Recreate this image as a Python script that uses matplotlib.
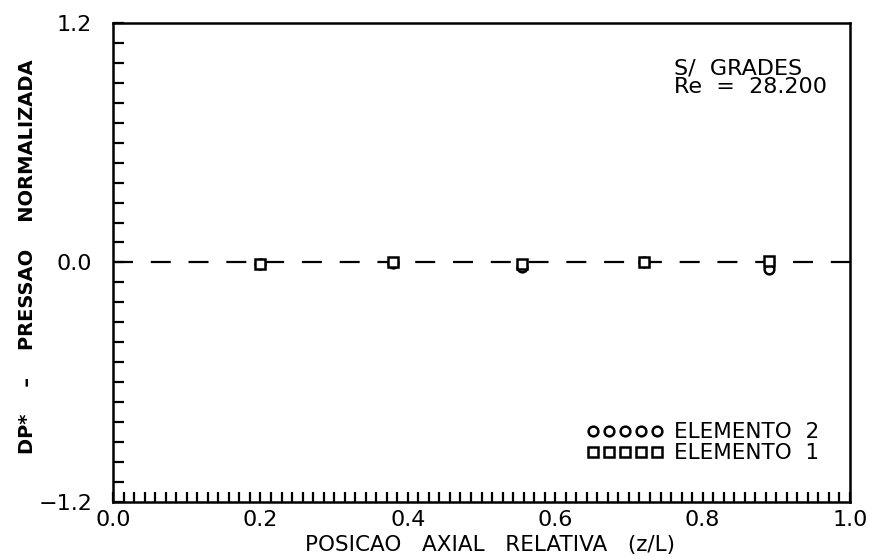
import matplotlib
matplotlib.use("Agg")
import matplotlib.pyplot as plt
import numpy as np
from matplotlib.ticker import MultipleLocator, FixedLocator

# posicoes axiais das tomadas de pressao
z_rel = [0.20, 0.38, 0.555, 0.72, 0.89]
# pressao normalizada medida em cada elemento
dp_elem2 = [-0.010, -0.005, -0.025, 0.000, -0.035]
dp_elem1 = [-0.010, 0.000, -0.010, 0.000, 0.005]

x_ticks = [0.0, 0.2, 0.4, 0.6, 0.8, 1.0]
y_ticks = [-1.2, 0.0, 1.2]

plt.rcParams['font.family'] = 'DejaVu Sans'

fig = plt.figure(figsize=(8.7, 5.59), dpi=100, facecolor='white')
ax = fig.add_axes([0.130, 0.102, 0.847, 0.857])

# linha de referencia DP* = 0
ax.axhline(0.0, color='black', lw=1.6, ls=(0, (9, 8)), zorder=1)

ax.plot(z_rel, dp_elem2, ls='none', marker='o', ms=7, mfc='white', mec='black',
        mew=1.8, label='ELEMENTO  2', zorder=3)
ax.plot(z_rel, dp_elem1, ls='none', marker='s', ms=7, mfc='white', mec='black',
        mew=1.8, label='ELEMENTO  1', zorder=3)

ax.set_xlim(0.0, 1.0)
ax.set_ylim(-1.2, 1.2)
ax.set_xticks(x_ticks)
ax.set_yticks(y_ticks)
ax.set_xticklabels(['0.0', '0.2', '0.4', '0.6', '0.8', '1.0'])
ax.set_yticklabels(['\u22121.2', '0.0', '1.2'])
ax.xaxis.set_minor_locator(FixedLocator(np.linspace(0, 1, 71)))
ax.yaxis.set_minor_locator(MultipleLocator(0.1))

ax.tick_params(axis='both', which='both', direction='in', color='black',
               width=1.6, labelsize=16)
ax.tick_params(axis='x', which='both', length=7, pad=6, top=False)
ax.tick_params(axis='y', which='both', length=8, pad=15, right=False)

for s in ax.spines.values():
    s.set_linewidth(1.8)
    s.set_color('black')

ax.set_xlabel('POSICAO   AXIAL   RELATIVA   (z/L)', fontsize=15.5)
ax.xaxis.set_label_coords(0.511, -0.068)
ax.set_ylabel('DP*    \u2013    PRESSAO    NORMALIZADA', fontsize=14,
              fontweight='bold')
ax.yaxis.set_label_coords(-0.103, 0.511)

ax.text(0.761, 0.885, 'S/  GRADES\nRe  =  28.200', transform=ax.transAxes,
        fontsize=16, va='center', ha='left', linespacing=0.92)

leg = ax.legend(loc='lower right', bbox_to_anchor=(0.985, 0.04), frameon=False,
                numpoints=5, handlelength=3.6, handletextpad=0.5,
                labelspacing=0.05, fontsize=15.5)

fig.savefig('out.png', dpi=100, facecolor='white')
